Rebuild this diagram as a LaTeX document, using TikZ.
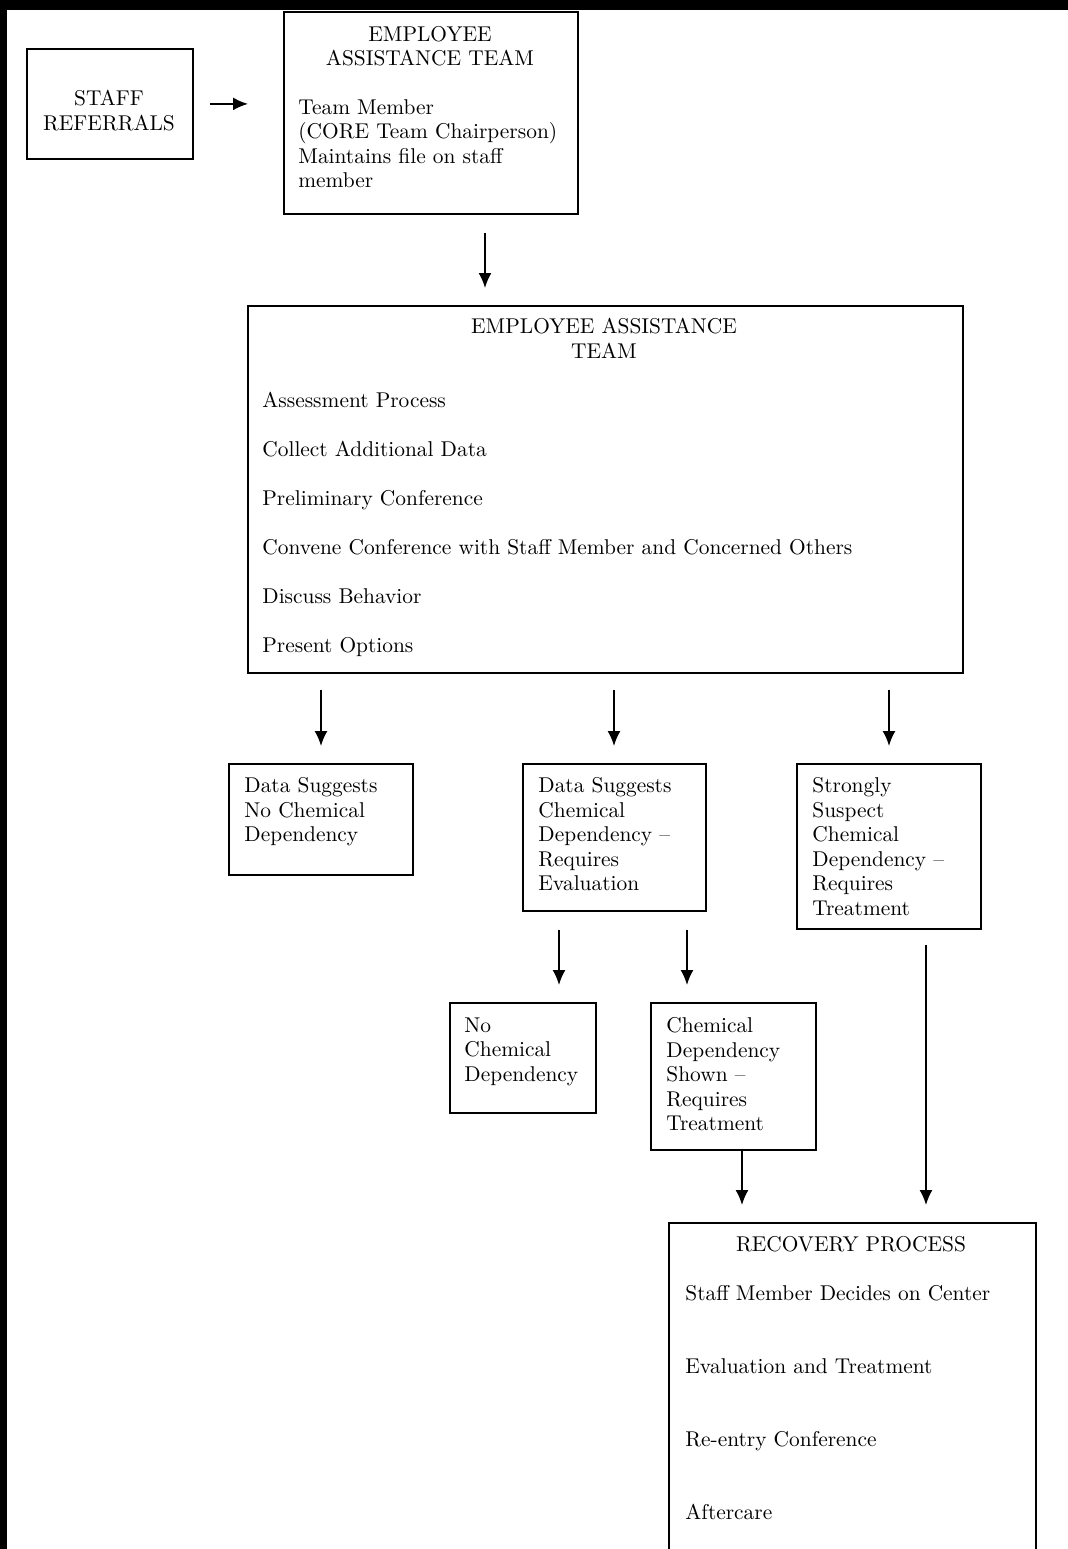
\documentclass[tikz,border=0pt]{standalone}
\usetikzlibrary{arrows.meta}
\begin{document}
\begin{tikzpicture}[x=0.5pt,y=-0.5pt,
    box/.style={draw,line width=0.9pt,anchor=north west,inner sep=0pt},
    txt/.style={inner sep=0pt,align=left,anchor=north west,font=\fontsize{10.7}{12.25}\selectfont},
    ttl/.style={inner sep=0pt,align=center,anchor=north,font=\fontsize{10.7}{12.25}\selectfont},
    arr/.style={-{Latex[length=7.5pt,width=6.5pt]},line width=0.9pt,shorten >=8.5pt}]
    \useasboundingbox (0,0) rectangle (1068,1549);
    \clip (0,0) rectangle (1068,1549);
    % scan border
    \fill (0,0) rectangle (1068,10);
    \fill (0,0) rectangle (7,1549);
    % top row
    \node[box,minimum width=83pt,minimum height=55pt] (staff) at (26,48) {};
    \node[ttl] (staffText) at (109,90) {STAFF\\REFERRALS};
    \node[box,minimum width=147pt,minimum height=101pt] (eat1) at (283,11) {};
    \node[ttl] (eat1Title) at (430,26) {EMPLOYEE\\ASSISTANCE TEAM};
    \node[txt] (eat1Text) at (298,99) {Team Member\\(CORE Team Chairperson)\\Maintains file on staff\\member};
    % assessment
    \node[box,minimum width=357.5pt,minimum height=183.5pt] (eat2) at (247,305) {};
    \node[ttl] (eat2Title) at (604,318) {EMPLOYEE ASSISTANCE\\TEAM};
    \node[txt] (eat2Text) at (262,392) {Assessment Process\\[12.25pt]
        Collect Additional Data\\[12.25pt]
        Preliminary Conference\\[12.25pt]
        Convene Conference with Staff Member and Concerned Others\\[12.25pt]
        Discuss Behavior\\[12.25pt]
        Present Options};
    % outcomes
    \node[box,minimum width=92pt,minimum height=55.5pt] (noDep) at (228,763) {};
    \node[txt] (noDepText) at (244,777) {Data Suggests\\No Chemical\\Dependency};
    \node[box,minimum width=91.5pt,minimum height=73.5pt] (evalDep) at (522,763) {};
    \node[txt] (evalDepText) at (538,777) {Data Suggests\\Chemical\\Dependency --\\Requires\\Evaluation};
    \node[box,minimum width=92pt,minimum height=82.5pt] (suspDep) at (796,763) {};
    \node[txt] (suspDepText) at (812,777) {Strongly\\Suspect\\Chemical\\Dependency --\\Requires\\Treatment};
    \node[box,minimum width=73pt,minimum height=55pt] (evalNo) at (449,1002) {};
    \node[txt] (evalNoText) at (464,1017) {No\\Chemical\\Dependency};
    \node[box,minimum width=82.5pt,minimum height=73.5pt] (evalYes) at (650,1002) {};
    \node[txt] (evalYesText) at (666,1017) {Chemical\\Dependency\\Shown --\\Requires\\Treatment};
    % recovery
    \node[box,minimum width=183.5pt,minimum height=200pt] (recov) at (668,1222) {};
    \node[ttl] (recovTitle) at (851,1236) {RECOVERY PROCESS};
    \node[txt] (recovText) at (685,1285) {Staff Member Decides on Center\\[24.25pt]
        Evaluation and Treatment\\[24.25pt]
        Re-entry Conference\\[24.25pt]
        Aftercare};
    % arrows
    \draw[arr,shorten <=8pt,shorten >=17.5pt] (staff.east) -- (staff.east -| eat1.west);
    \draw[arr,shorten <=9pt] (eat1.south -| 485,0) -- (eat2.north -| 485,0);
    \draw[arr,shorten <=8pt] (eat2.south -| 321,0) -- (noDep.north -| 321,0);
    \draw[arr,shorten <=8pt] (eat2.south -| 614,0) -- (evalDep.north -| 614,0);
    \draw[arr,shorten <=8pt] (eat2.south -| 889,0) -- (suspDep.north -| 889,0);
    \draw[arr,shorten <=9pt] (evalDep.south -| 559,0) -- (evalNo.north -| 559,0);
    \draw[arr,shorten <=9pt] (evalDep.south -| 687,0) -- (evalYes.north -| 687,0);
    \draw[arr] (evalYes.south -| 742,0) -- (recov.north -| 742,0);
    \draw[arr,shorten <=7.5pt] (suspDep.south -| 926,0) -- (recov.north -| 926,0);
\end{tikzpicture}
\end{document}
